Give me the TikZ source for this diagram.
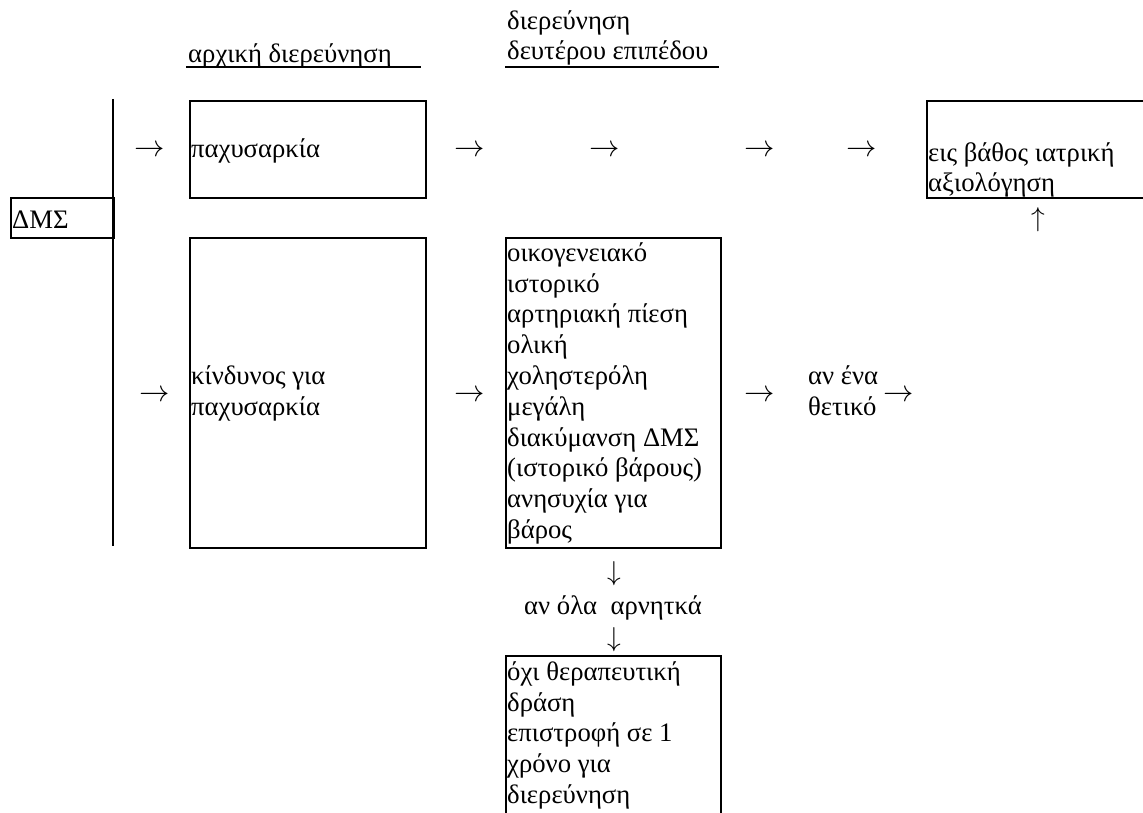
\documentclass[tikz,border=0pt]{standalone}
\usepackage{fontspec}
\setmainfont{Liberation Serif}
\newcommand\fst{\rule{0pt}{21pt}}
\newcommand\harr{\scalebox{1.22}{$\rightarrow$}}
\newcommand\uarr{\scalebox{1.1}{$\uparrow$}}
\newcommand\darr{\scalebox{1.1}{$\downarrow$}}
\begin{document}
\begin{tikzpicture}[x=1pt,y=-1pt,
  txt/.style={inner sep=0pt, anchor=north west, align=left, font=\fontsize{26.7}{30.8}\selectfont},
  arr/.style={inner sep=0pt, anchor=base, font=\fontsize{24.88}{30}\selectfont},
  varr/.style={inner sep=0pt, font=\fontsize{24.88}{30}\selectfont},
  frame/.style={draw=black, line width=2.2pt, inner sep=0pt, anchor=north west},
  rule/.style={line width=2.2pt}]
\useasboundingbox (0,0) rectangle (1143,813);
% headers
\node[txt] (h1) at (188,41) {\fst αρχική διερεύνηση};
\draw[rule] (186,67) -- (421,67);
\node[txt] (h2) at (507,8) {\fst διερεύνηση\\δευτέρου επιπέδου};
\draw[rule] (505,67) -- (719,67);
% left spine
\draw[rule] (113,99) -- (113,546);
\node[frame, minimum width=103pt, minimum height=40pt] (dmsbox) at (10,197) {};
\node[txt] (dms) at (12,207) {\fst ΔΜΣ};
% top row
\node[frame, minimum width=236pt, minimum height=97pt] (top) at (189,100) {};
\node[txt] (toptxt) at (191,136) {\fst παχυσαρκία};
\node[arr] (t1) at (150,157) {\harr};
\node[arr] (t2) at (470,157) {\harr};
\node[arr] (t3) at (605,157) {\harr};
\node[arr] (t4) at (760,157) {\harr};
\node[arr] (t5) at (862,157) {\harr};
\node[frame, minimum width=234pt, minimum height=97pt] (eval) at (926,100) {};
\node[txt] (evaltxt) at (928,140) {\fst εις βάθος ιατρική\\αξιολόγηση};
\node[varr] (up) at (1038,220) {\uarr};
% lower row
\node[frame, minimum width=236pt, minimum height=310pt] (risk) at (189,237) {};
\node[txt] (risktxt) at (191,363) {\fst κίνδυνος για\\παχυσαρκία};
\node[arr] (b1) at (155,401) {\harr};
\node[arr] (b2) at (470,401) {\harr};
\node[frame, minimum width=215pt, minimum height=310pt] (check) at (505,237) {};
\node[txt] (checktxt) at (507,240) {\fst οικογενειακό\\ιστορικό\\αρτηριακή πίεση\\ολική\\χοληστερόλη\\μεγάλη\\διακύμανση ΔΜΣ\\(ιστορικό βάρους)\\ανησυχία για\\βάρος};
\node[arr] (b3) at (760,401) {\harr};
\node[txt] (pos) at (808,363) {\fst αν ένα\\θετικό};
\node[arr] (b4) at (899,401) {\harr};
% downward branch
\node[varr] (d1) at (614,574) {\darr};
\node[arr, font=\fontsize{26.7}{30.8}\selectfont] (neg) at (613,614) {αν όλα\ \ αρνητκά};
\node[varr] (d2) at (614,640) {\darr};
\node[frame, minimum width=215pt, minimum height=175pt] (none) at (505,655) {};
\node[txt] (nonetxt) at (507,659) {\fst όχι θεραπευτική\\δράση\\επιστροφή σε 1\\χρόνο για\\διερεύνηση};
\end{tikzpicture}
\end{document}
